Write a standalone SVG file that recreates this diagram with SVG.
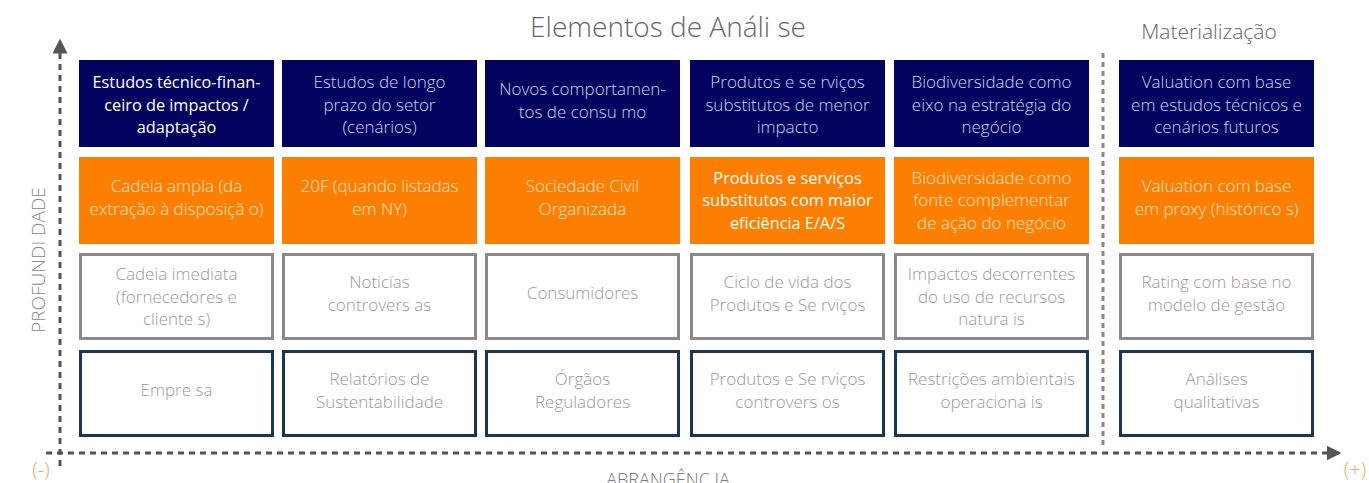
<svg xmlns="http://www.w3.org/2000/svg" width="1369" height="483" viewBox="0 0 1369 483">
<style>
text{font-family:"Open Sans","Liberation Sans",sans-serif;font-weight:300;text-anchor:middle;font-size:17px}
.navy{fill:#03045f}
.orng{fill:#fd7f02}
.gray{fill:#fff;stroke:#8a8a8a;stroke-width:3}
.dark{fill:#fff;stroke:#1c3557;stroke-width:3}
.tn{fill:#cfd0ea}
.tw{fill:#ffffff;font-weight:400;font-size:16.3px}
.to{fill:#fde4cc}
.tow{fill:#ffffff;font-weight:400;font-size:16.3px}
.tg{fill:#9a9a9a}
.axis{stroke:#555;stroke-width:3;stroke-dasharray:6 5;fill:none}
.sep{stroke:#888;stroke-width:3;stroke-dasharray:5 4;fill:none}
.pm{fill:#f7a35c;font-size:20px}
</style>
<defs>
<marker id="arr" viewBox="0 0 10 10" refX="9" refY="5" markerWidth="5" markerHeight="5" orient="auto" markerUnits="strokeWidth"><path d="M0,0 L10,5 L0,10 z" fill="#555"/></marker>
</defs>
<g id="titles">
<text x="668" y="37" style="font-size:28px;fill:#666">Elementos de Análi se</text>
<text x="1209" y="39" style="font-size:21px;fill:#666">Materialização</text>
<text x="668" y="486" style="font-size:18px;fill:#777">ABRANGÊNC IA</text>
<text transform="translate(45,260) rotate(-90)" style="font-size:19px;fill:#888">PROFUNDI DADE</text>
<text x="41" y="477" class="pm">(-)</text>
<text x="1355" y="477" class="pm">(+)</text>
</g>
<g id="connectors">
<line class="axis" x1="60" y1="466" x2="60" y2="40" marker-end="url(#arr)"/>
<line class="axis" x1="46" y1="453" x2="1340" y2="453" marker-end="url(#arr)"/>
<line class="sep" x1="1103" y1="53" x2="1103" y2="446"/>
</g>
<!-- Row 1 -->
<g id="n11"><rect class="navy" x="79" y="60" width="195" height="87"/><text class="tw"><tspan x="176.5" y="88">Estudos técnico-finan-</tspan><tspan x="176.5" y="110.5">ceiro de impactos /</tspan><tspan x="176.5" y="133">adaptação</tspan></text></g>
<g id="n12"><rect class="navy" x="282" y="60" width="195" height="87"/><text class="tn"><tspan x="379.5" y="88">Estudos de longo</tspan><tspan x="379.5" y="110.5">prazo do setor</tspan><tspan x="379.5" y="133">(cenários)</tspan></text></g>
<g id="n13"><rect class="navy" x="485" y="60" width="195" height="87"/><text class="tn"><tspan x="582.5" y="95">Novos comportamen-</tspan><tspan x="582.5" y="117.5">tos de consu mo</tspan></text></g>
<g id="n14"><rect class="navy" x="690" y="60" width="195" height="87"/><text class="tn"><tspan x="787.5" y="88">Produtos e se rviços</tspan><tspan x="787.5" y="110.5">substitutos de menor</tspan><tspan x="787.5" y="133">impacto</tspan></text></g>
<g id="n15"><rect class="navy" x="894" y="60" width="195" height="87"/><text class="tn"><tspan x="991.5" y="88">Biodiversidade como</tspan><tspan x="991.5" y="110.5">eixo na estratégia do</tspan><tspan x="991.5" y="133">negócio</tspan></text></g>
<g id="n16"><rect class="navy" x="1119" y="60" width="195" height="87"/><text class="tn"><tspan x="1216.5" y="88">Valuation com base</tspan><tspan x="1216.5" y="110.5">em estudos técnicos e</tspan><tspan x="1216.5" y="133">cenários futuros</tspan></text></g>
<!-- Row 2 -->
<g id="n21"><rect class="orng" x="79" y="157" width="195" height="87"/><text class="to"><tspan x="176.5" y="192">Cadeia ampla (da</tspan><tspan x="176.5" y="214.5">extração à disposiçã o)</tspan></text></g>
<g id="n22"><rect class="orng" x="282" y="157" width="195" height="87"/><text class="to"><tspan x="379.5" y="192">20F (quando listadas</tspan><tspan x="379.5" y="214.5">em NY)</tspan></text></g>
<g id="n23"><rect class="orng" x="485" y="157" width="195" height="87"/><text class="to"><tspan x="582.5" y="192">Sociedade Civil</tspan><tspan x="582.5" y="214.5">Organizada</tspan></text></g>
<g id="n24"><rect class="orng" x="690" y="157" width="195" height="87"/><text class="tow"><tspan x="787.5" y="183.5">Produtos e serviços</tspan><tspan x="787.5" y="206">substitutos com maior</tspan><tspan x="787.5" y="228.5">eficiência E/A/S</tspan></text></g>
<g id="n25"><rect class="orng" x="894" y="157" width="195" height="87"/><text class="to"><tspan x="991.5" y="183.5">Biodiversidade como</tspan><tspan x="991.5" y="206">fonte complementar</tspan><tspan x="991.5" y="228.5">de ação do negócio</tspan></text></g>
<g id="n26"><rect class="orng" x="1119" y="157" width="195" height="87"/><text class="to"><tspan x="1216.5" y="192">Valuation com base</tspan><tspan x="1216.5" y="214.5">em proxy (histórico s)</tspan></text></g>
<!-- Row 3 -->
<g id="n31"><rect class="gray" x="80.5" y="254.5" width="192" height="84"/><text class="tg"><tspan x="176.5" y="280">Cadeia imediata</tspan><tspan x="176.5" y="302.5">(fornecedores e</tspan><tspan x="176.5" y="325">cliente s)</tspan></text></g>
<g id="n32"><rect class="gray" x="283.5" y="254.5" width="192" height="84"/><text class="tg"><tspan x="379.5" y="288">Noticías</tspan><tspan x="379.5" y="310.5">controvers as</tspan></text></g>
<g id="n33"><rect class="gray" x="486.5" y="254.5" width="192" height="84"/><text class="tg"><tspan x="582.5" y="299">Consumidores</tspan></text></g>
<g id="n34"><rect class="gray" x="691.5" y="254.5" width="192" height="84"/><text class="tg"><tspan x="787.5" y="288">Ciclo de vida dos</tspan><tspan x="787.5" y="310.5">Produtos e Se rviços</tspan></text></g>
<g id="n35"><rect class="gray" x="895.5" y="254.5" width="192" height="84"/><text class="tg"><tspan x="991.5" y="280">Impactos decorrentes</tspan><tspan x="991.5" y="302.5">do uso de recursos</tspan><tspan x="991.5" y="325">natura is</tspan></text></g>
<g id="n36"><rect class="gray" x="1120.5" y="254.5" width="192" height="84"/><text class="tg"><tspan x="1216.5" y="288">Rating com base no</tspan><tspan x="1216.5" y="310.5">modelo de gestão</tspan></text></g>
<!-- Row 4 -->
<g id="n41"><rect class="dark" x="80.5" y="351.5" width="192" height="84"/><text class="tg"><tspan x="176.5" y="396">Empre sa</tspan></text></g>
<g id="n42"><rect class="dark" x="283.5" y="351.5" width="192" height="84"/><text class="tg"><tspan x="379.5" y="385">Relatórios de</tspan><tspan x="379.5" y="407.5">Sustentabilidade</tspan></text></g>
<g id="n43"><rect class="dark" x="486.5" y="351.5" width="192" height="84"/><text class="tg"><tspan x="582.5" y="385">Órgãos</tspan><tspan x="582.5" y="407.5">Reguladores</tspan></text></g>
<g id="n44"><rect class="dark" x="691.5" y="351.5" width="192" height="84"/><text class="tg"><tspan x="787.5" y="385">Produtos e Se rviços</tspan><tspan x="787.5" y="407.5">controvers os</tspan></text></g>
<g id="n45"><rect class="dark" x="895.5" y="351.5" width="192" height="84"/><text class="tg"><tspan x="991.5" y="385">Restrições ambientais</tspan><tspan x="991.5" y="407.5">operaciona is</tspan></text></g>
<g id="n46"><rect class="dark" x="1120.5" y="351.5" width="192" height="84"/><text class="tg"><tspan x="1216.5" y="385">Análises</tspan><tspan x="1216.5" y="407.5">qualitativas</tspan></text></g>
</svg>
